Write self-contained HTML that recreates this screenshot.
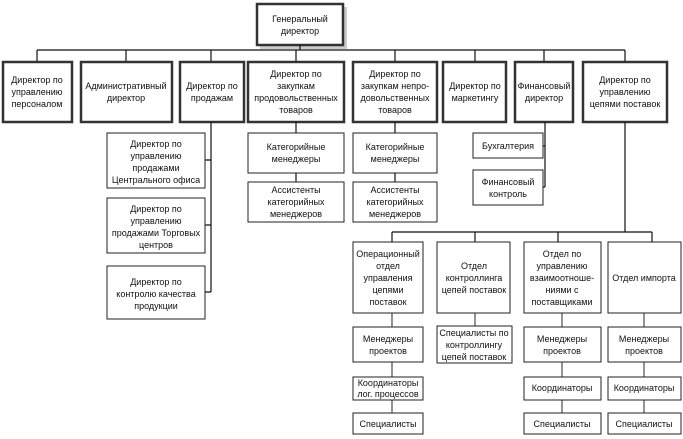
<!DOCTYPE html>
<html><head><meta charset="utf-8"><style>
html,body{margin:0;padding:0;background:#fff;}
svg{display:block;}
text{font-family:"Liberation Sans","DejaVu Sans",sans-serif;font-size:9px;fill:#111;text-anchor:middle;}
.b{fill:#fff;stroke:#222;stroke-width:1;}
.t{fill:#fff;stroke:#333;stroke-width:2.5;}
.l{stroke:#111;stroke-width:1.2;fill:none;}
</style></head><body>
<svg width="683" height="439" viewBox="0 0 683 439">
<rect x="260" y="7" width="87" height="42" fill="#ccc"/>
<rect class="t" x="257" y="4" width="86" height="41"/>
<text x="300" y="22">Генеральный</text><text x="300" y="34">директор</text>
<path class="l" d="M300 45V50M37 50H625M37 50V62M126 50V62M211 50V62M296 50V62M395 50V62M475 50V62M544 50V62M625 50V62"/>
<g>
<rect class="t" x="3" y="62" width="69" height="60"/>
<text x="37" y="83">Директор по</text><text x="37" y="95">управлению</text><text x="37" y="107">персоналом</text>
<rect class="t" x="81" y="62" width="91" height="60"/>
<text x="126" y="89">Административный</text><text x="126" y="101">директор</text>
<rect class="t" x="180" y="62" width="64" height="60"/>
<text x="212" y="89">Директор по</text><text x="212" y="101">продажам</text>
<rect class="t" x="248" y="62" width="96" height="60"/>
<text x="296" y="77">Директор по</text><text x="296" y="89">закупкам</text><text x="296" y="101">продовольственных</text><text x="296" y="113">товаров</text>
<rect class="t" x="353" y="62" width="84" height="60"/>
<text x="395" y="77">Директор по</text><text x="395" y="89">закупкам непро-</text><text x="395" y="101">довольственных</text><text x="395" y="113">товаров</text>
<rect class="t" x="443" y="62" width="63" height="60"/>
<text x="475" y="89">Директор по</text><text x="475" y="101">маркетингу</text>
<rect class="t" x="515" y="62" width="58" height="60"/>
<text x="544" y="89">Финансовый</text><text x="544" y="101">директор</text>
<rect class="t" x="583" y="62" width="84" height="60"/>
<text x="625" y="83">Директор по</text><text x="625" y="95">управлению</text><text x="625" y="107">цепями поставок</text>
</g>
<path class="l" d="M211 122V292M205 160H211M205 225H211M205 292H211"/>
<rect class="b" x="107" y="133" width="98" height="55"/>
<text x="156" y="147">Директор по</text><text x="156" y="159">управлению</text><text x="156" y="171">продажами</text><text x="156" y="183">Центрального офиса</text>
<rect class="b" x="107" y="198" width="98" height="55"/>
<text x="156" y="212">Директор по</text><text x="156" y="224">управлению</text><text x="156" y="236">продажами Торговых</text><text x="156" y="248">центров</text>
<rect class="b" x="107" y="266" width="98" height="53"/>
<text x="156" y="285">Директор по</text><text x="156" y="297">контролю качества</text><text x="156" y="309">продукции</text>
<path class="l" d="M296 122V182M395 122V182"/>
<rect class="b" x="248" y="133" width="96" height="40"/>
<text x="296" y="150">Категорийные</text><text x="296" y="162">менеджеры</text>
<rect class="b" x="248" y="182" width="96" height="40"/>
<text x="296" y="193">Ассистенты</text><text x="296" y="205">категорийных</text><text x="296" y="217">менеджеров</text>
<rect class="b" x="353" y="133" width="84" height="40"/>
<text x="395" y="150">Категорийные</text><text x="395" y="162">менеджеры</text>
<rect class="b" x="353" y="182" width="84" height="40"/>
<text x="395" y="193">Ассистенты</text><text x="395" y="205">категорийных</text><text x="395" y="217">менеджеров</text>
<path class="l" d="M545 122V187M543 146H545M543 187H545"/>
<rect class="b" x="473" y="133" width="70" height="25"/>
<text x="508" y="149">Бухгалтерия</text>
<rect class="b" x="473" y="170" width="70" height="35"/>
<text x="508" y="185">Финансовый</text><text x="508" y="197">контроль</text>
<path class="l" d="M625 122V232M392 232H652M392 232V242M475 232V242M558 232V242M652 232V242"/>
<path class="l" d="M392 313V327M392 362V377M392 400V413M475 313V326M562 313V327M562 362V377M562 400V413M644 313V327M644 362V377M644 400V413" style="stroke-width:0.9"/>
<rect class="b" x="353" y="242" width="70" height="71"/>
<text x="388" y="257">Операционный</text><text x="388" y="269">отдел</text><text x="388" y="281">управления</text><text x="388" y="293">цепями</text><text x="388" y="305">поставок</text>
<rect class="b" x="437" y="242" width="73" height="71"/>
<text x="474" y="269">Отдел</text><text x="474" y="281">контроллинга</text><text x="474" y="293">цепей поставок</text>
<rect class="b" x="524" y="242" width="77" height="71"/>
<text x="562" y="257">Отдел по</text><text x="562" y="269">управлению</text><text x="562" y="281">взаимоотноше-</text><text x="562" y="293">ниями с</text><text x="562" y="305">поставщиками</text>
<rect class="b" x="608" y="242" width="73" height="71"/>
<text x="644" y="281">Отдел импорта</text>
<rect class="b" x="353" y="327" width="70" height="35"/>
<text x="388" y="342">Менеджеры</text><text x="388" y="354">проектов</text>
<rect class="b" x="437" y="326" width="75" height="37"/>
<text x="474" y="336">Специалисты по</text><text x="474" y="348">контроллингу</text><text x="474" y="360">цепей поставок</text>
<rect class="b" x="524" y="327" width="77" height="35"/>
<text x="562" y="342">Менеджеры</text><text x="562" y="354">проектов</text>
<rect class="b" x="608" y="327" width="73" height="35"/>
<text x="644" y="342">Менеджеры</text><text x="644" y="354">проектов</text>
<rect class="b" x="353" y="377" width="70" height="23"/>
<text x="388" y="386">Координаторы</text><text x="388" y="397">лог. процессов</text>
<rect class="b" x="524" y="377" width="77" height="23"/>
<text x="562" y="391">Координаторы</text>
<rect class="b" x="608" y="377" width="73" height="23"/>
<text x="644" y="391">Координаторы</text>
<rect class="b" x="353" y="413" width="70" height="21"/>
<text x="388" y="427">Специалисты</text>
<rect class="b" x="524" y="413" width="77" height="21"/>
<text x="562" y="427">Специалисты</text>
<rect class="b" x="608" y="413" width="73" height="21"/>
<text x="644" y="427">Специалисты</text>
</svg>
</body></html>
